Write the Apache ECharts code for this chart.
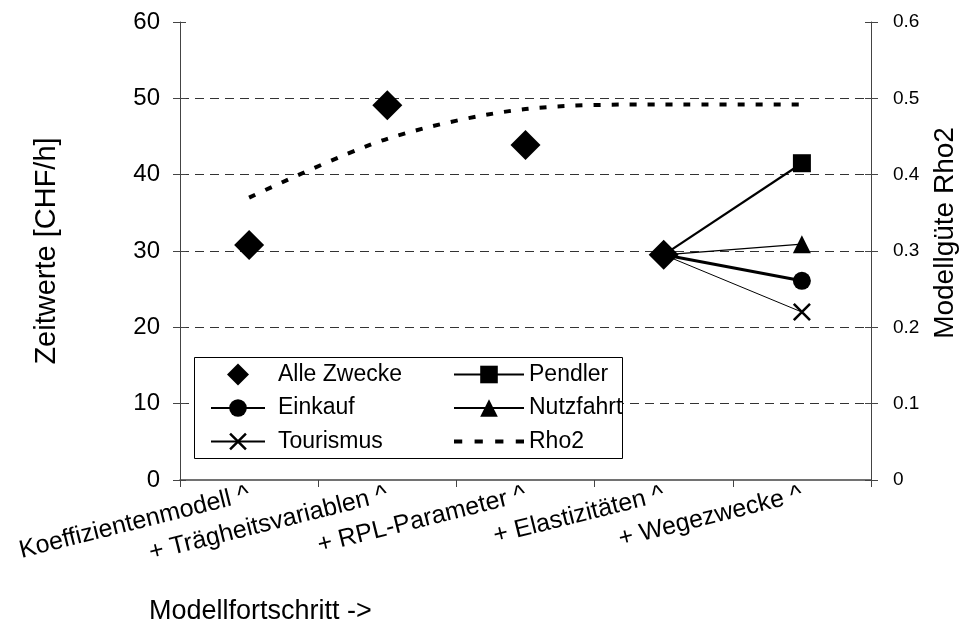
<!DOCTYPE html>
<html>
<head>
<meta charset="utf-8">
<script src="https://cdn.jsdelivr.net/npm/echarts@6/dist/echarts.min.js"></script>
<style>
  html, body { margin: 0; padding: 0; background: #fff; }
  #chart { width: 961px; height: 634px; }
</style>
</head>
<body>
<div id="chart"></div>
<script>
// Kategorien (Modellfortschritt)
const categories = ['Koeffizientenmodell ^', '+ Trägheitsvariablen ^', '+ RPL-Parameter ^', '+ Elastizitäten ^', '+ Wegezwecke ^'];
// Zeitwerte [CHF/h]
const alleZwecke = [30.8, 49.1, 43.9, 29.5, null];
const pendler = [null, null, null, 29.5, 41.5];
const einkauf = [null, null, null, 29.5, 26.1];
const nutzfahrt = [null, null, null, 29.5, 30.9];
const tourismus = [null, null, null, 29.5, 22.0];
// Modellgüte Rho2
const rho2 = [0.37, 0.447, 0.486, 0.492, 0.492];

const FONT = "'Liberation Sans', Arial, sans-serif";
const crossX = 'path://M0,1L1,0L10,9L9,10ZM9,0L10,1L1,10L0,9Z';
const diamondIcon = 'path://M5,0L10,5L5,10L0,5Z';
const dashIcon = 'path://M0,0h8v4h-8zM20,0h8v4h-8zM40,0h8v4h-8zM60,0h8v4h-8z';

// first point of each segment sits under the diamond -> no marker there
function firstHidden(arr) {
  let done = false;
  return arr.map(v => {
    if (v != null && !done) { done = true; return { value: v, symbol: 'none' }; }
    return v;
  });
}

const chart = echarts.init(document.getElementById('chart'));

const legendText = { fontFamily: FONT, fontSize: 23, color: '#000', lineHeight: 22 };

const option = {
  animation: false,
  backgroundColor: '#fff',
  textStyle: { fontFamily: FONT, color: '#000' },
  title: {
    text: 'Modellfortschritt ->',
    left: 144,
    top: 593,
    textStyle: { fontFamily: FONT, fontSize: 27, fontWeight: 'normal', color: '#000' }
  },
  grid: { left: 180, right: 90, top: 22, bottom: 154, containLabel: false, outerBoundsMode: 'none' },
  graphic: [{
    type: 'rect',
    z: 5,
    shape: { x: 194.5, y: 357.5, width: 428, height: 101 },
    style: { fill: '#fff', stroke: '#000', lineWidth: 1 }
  }],
  legend: [
    {
      z: 6, orient: 'vertical', left: 210, top: 363, padding: 0,
      itemWidth: 54, itemHeight: 22, itemGap: 10.5,
      textStyle: Object.assign({ padding: [0, 0, 0, 8] }, legendText),
      data: [{ name: 'Alle Zwecke', icon: diamondIcon }, 'Einkauf', 'Tourismus']
    },
    {
      z: 6, orient: 'vertical', left: 453, top: 363, padding: 0,
      itemWidth: 70, itemHeight: 22, itemGap: 10.5,
      textStyle: legendText,
      data: ['Pendler', 'Nutzfahrt', { name: 'Rho2', icon: dashIcon }]
    }
  ],
  xAxis: {
    type: 'category',
    data: categories,
    axisLine: { lineStyle: { color: '#444', width: 1.5 } },
    axisTick: { show: true, length: 7, lineStyle: { color: '#444' } },
    axisLabel: { interval: 0, rotate: 14, margin: 14, fontSize: 25, color: '#000', fontFamily: FONT }
  },
  yAxis: [
    {
      type: 'value', position: 'left', min: 0, max: 60, interval: 10,
      name: 'Zeitwerte [CHF/h]', nameLocation: 'middle', nameRotate: 90, nameGap: 119,
      nameTextStyle: { fontSize: 29, color: '#000', fontFamily: FONT },
      axisLine: { show: true, lineStyle: { color: '#444' } },
      axisTick: { show: true, length: 7, lineStyle: { color: '#444' } },
      axisLabel: { margin: 20, fontSize: 24, color: '#000', fontFamily: FONT },
      splitLine: { show: true, showMinLine: false, showMaxLine: false, lineStyle: { color: '#333', type: [9, 6], width: 1 } }
    },
    {
      type: 'value', position: 'right', min: 0, max: 0.6, interval: 0.1,
      name: 'Modellgüte Rho2', nameLocation: 'middle', nameRotate: 90, nameGap: 60,
      nameTextStyle: { fontSize: 28, color: '#000', fontFamily: FONT, padding: [0, 0, 0, 36] },
      axisLine: { show: true, lineStyle: { color: '#444' } },
      axisTick: { show: true, length: 7, lineStyle: { color: '#444' } },
      axisLabel: { margin: 22, fontSize: 19, color: '#000', fontFamily: FONT },
      splitLine: { show: false }
    },
    {
      // inner half of the crossing ticks, left
      type: 'value', position: 'left', min: 0, max: 60, interval: 10,
      axisLine: { show: false }, axisLabel: { show: false }, splitLine: { show: false },
      axisTick: { show: true, inside: true, length: 6, lineStyle: { color: '#444' } }
    },
    {
      // inner half of the crossing ticks, right
      type: 'value', position: 'right', min: 0, max: 0.6, interval: 0.1,
      axisLine: { show: false }, axisLabel: { show: false }, splitLine: { show: false },
      axisTick: { show: true, inside: true, length: 6, lineStyle: { color: '#444' } }
    }
  ],
  series: [
    {
      name: 'Rho2', type: 'line', yAxisIndex: 1, smooth: 0.3,
      symbol: 'none',
      lineStyle: { color: '#000', width: 4, type: [7, 11], cap: 'butt' },
      itemStyle: { color: '#000' },
      data: rho2
    },
    {
      name: 'Pendler', type: 'line', yAxisIndex: 0,
      symbol: 'rect', symbolSize: 18,
      lineStyle: { color: '#000', width: 2.2 },
      itemStyle: { color: '#000' },
      data: firstHidden(pendler)
    },
    {
      name: 'Einkauf', type: 'line', yAxisIndex: 0,
      symbol: 'circle', symbolSize: 18,
      lineStyle: { color: '#000', width: 3 },
      itemStyle: { color: '#000' },
      data: firstHidden(einkauf)
    },
    {
      name: 'Nutzfahrt', type: 'line', yAxisIndex: 0,
      symbol: 'triangle', symbolSize: 18,
      lineStyle: { color: '#000', width: 1.3 },
      itemStyle: { color: '#000' },
      data: firstHidden(nutzfahrt)
    },
    {
      name: 'Tourismus', type: 'line', yAxisIndex: 0,
      symbol: crossX, symbolSize: 18,
      lineStyle: { color: '#000', width: 1 },
      itemStyle: { color: '#000' },
      data: firstHidden(tourismus)
    },
    {
      name: 'Alle Zwecke', type: 'scatter', yAxisIndex: 0, z: 3,
      symbol: 'diamond', symbolSize: 30,
      itemStyle: { color: '#000', opacity: 1 },
      data: alleZwecke
    }
  ]
};

chart.setOption(option);
</script>
</body>
</html>
